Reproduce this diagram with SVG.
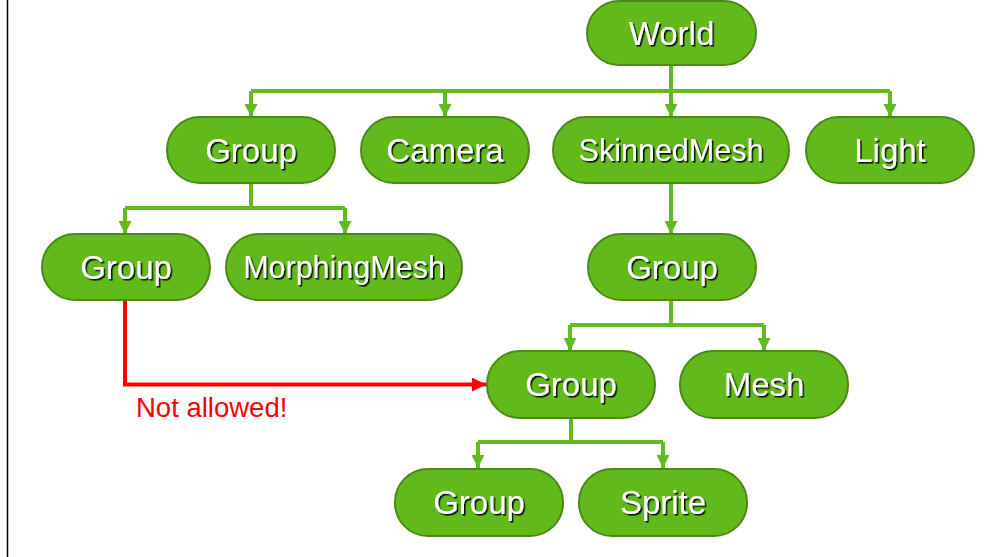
<svg xmlns="http://www.w3.org/2000/svg" width="1005" height="557" viewBox="0 0 1005 557">
<defs>
<style>
.node rect{fill:#62B91B;stroke:#4C8A17;stroke-width:2}
.node text{fill:#fff;font-family:"Liberation Sans",Arial,sans-serif;font-size:33px;text-anchor:middle;filter:url(#sh)}
.node text.sm{font-size:30.5px}
.g{fill:none;stroke:#62BA1E;stroke-width:4}
.r{fill:none;stroke:#FF0000;stroke-width:4}
</style>
<filter id="sh" x="-10%" y="-20%" width="120%" height="140%">
<feDropShadow dx="1.6" dy="1.6" stdDeviation="0.3" flood-color="#000" flood-opacity="0.9"/>
</filter>
<marker id="ag" markerWidth="13" markerHeight="13" viewBox="0 0 13 13" refX="13" refY="6.5" orient="auto" markerUnits="userSpaceOnUse">
<path d="M0,0 L13,6.5 L0,13 Z" fill="#62BA1E"/>
</marker>
<marker id="ar" markerWidth="14" markerHeight="14" viewBox="0 0 14 14" refX="14" refY="7" orient="auto" markerUnits="userSpaceOnUse">
<path d="M0,0 L14,7 L0,14 Z" fill="#FF0000"/>
</marker>
</defs>
<rect width="1005" height="557" fill="#fff"/>
<line x1="7.5" y1="0" x2="7.5" y2="557" stroke="#000" stroke-width="1.5"/>
<g id="connectors">
<path class="g" d="M671,66 V91"/>
<path class="g" d="M251,91 H890"/>
<path class="g" d="M251,91 V117" marker-end="url(#ag)"/>
<path class="g" d="M445,91 V117" marker-end="url(#ag)"/>
<path class="g" d="M671,91 V117" marker-end="url(#ag)"/>
<path class="g" d="M890,91 V117" marker-end="url(#ag)"/>
<path class="g" d="M251,183 V208"/>
<path class="g" d="M125,208 H345"/>
<path class="g" d="M125,208 V234" marker-end="url(#ag)"/>
<path class="g" d="M345,208 V234" marker-end="url(#ag)"/>
<path class="g" d="M671,183 V234" marker-end="url(#ag)"/>
<path class="g" d="M671,300 V325"/>
<path class="g" d="M570,325 H764"/>
<path class="g" d="M570,325 V351" marker-end="url(#ag)"/>
<path class="g" d="M764,325 V351" marker-end="url(#ag)"/>
<path class="g" d="M571,418 V442"/>
<path class="g" d="M478,442 H663"/>
<path class="g" d="M478,442 V468" marker-end="url(#ag)"/>
<path class="g" d="M663,442 V468" marker-end="url(#ag)"/>
<path class="r" d="M125,300 V384.5 H486" marker-end="url(#ar)"/>
<text x="136" y="417" font-family="'Liberation Sans',Arial,sans-serif" font-size="27.5" fill="#FF0000">Not allowed!</text>
</g>
<g id="n-world" class="node"><rect x="587" y="1" width="169" height="64" rx="32"/><text x="671.5" y="45">World</text></g>
<g id="n-group1" class="node"><rect x="167" y="117" width="168" height="66" rx="33"/><text x="251" y="162">Group</text></g>
<g id="n-camera" class="node"><rect x="361" y="117" width="168" height="66" rx="33"/><text x="445" y="162">Camera</text></g>
<g id="n-skinned" class="node"><rect x="553" y="117" width="236" height="66" rx="33"/><text class="sm" x="671" y="161">SkinnedMesh</text></g>
<g id="n-light" class="node"><rect x="806" y="117" width="168" height="66" rx="33"/><text x="890" y="162">Light</text></g>
<g id="n-group2" class="node"><rect x="42" y="234" width="168" height="66" rx="33"/><text x="126" y="279">Group</text></g>
<g id="n-morph" class="node"><rect x="226" y="234" width="236" height="66" rx="33"/><text class="sm" x="344" y="278">MorphingMesh</text></g>
<g id="n-group3" class="node"><rect x="588" y="234" width="168" height="66" rx="33"/><text x="672" y="279">Group</text></g>
<g id="n-group4" class="node"><rect x="487" y="351" width="168" height="67" rx="33"/><text x="571" y="396">Group</text></g>
<g id="n-mesh" class="node"><rect x="680" y="351" width="168" height="67" rx="33"/><text x="764" y="396">Mesh</text></g>
<g id="n-group5" class="node"><rect x="395" y="469" width="168" height="67" rx="33"/><text x="479" y="514">Group</text></g>
<g id="n-sprite" class="node"><rect x="579" y="469" width="168" height="67" rx="33"/><text x="663" y="514">Sprite</text></g>
</svg>
